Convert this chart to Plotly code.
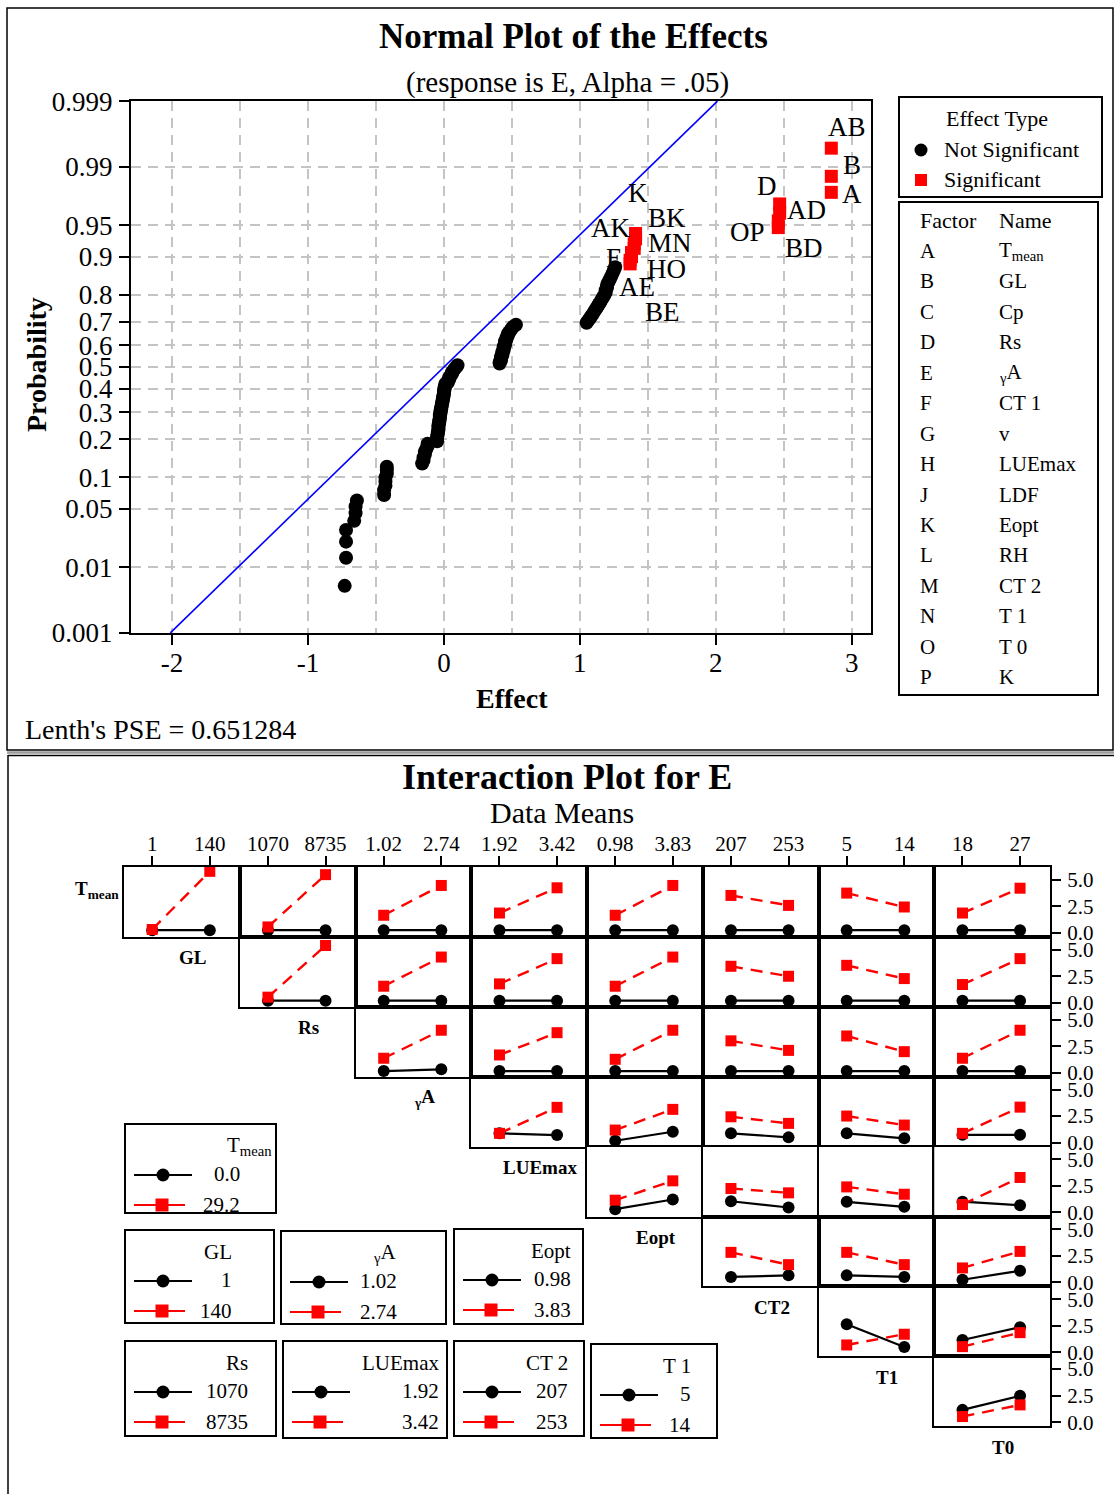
import plotly.graph_objects as go
from statistics import NormalDist

W, H = 1114, 1494
SERIF = "Liberation Serif"
GRID = "#c4c4c4"
RED = "#ff0000"

# ---------------- Normal plot of the effects: data ----------------
nonsig_effects = [
    -0.73, -0.72, -0.72, -0.72,
    -0.66, -0.65, -0.65, -0.64,
    -0.44, -0.44, -0.43, -0.43, -0.43, -0.42, -0.42, -0.42,
    -0.16, -0.15, -0.15, -0.14, -0.14, -0.13, -0.12, -0.12,
    -0.05, -0.05, -0.05, -0.045, -0.045, -0.04, -0.04,
    -0.04, -0.035, -0.035, -0.03, -0.03, -0.03, -0.025, -0.025, -0.02,
    -0.02, -0.015, -0.015, -0.01, -0.01, -0.005, -0.005,
    0.0, 0.0, 0.0, 0.005, 0.005, 0.01, 0.01,
    0.03, 0.03, 0.04, 0.04,
    0.05, 0.06, 0.06, 0.07,
    0.08, 0.09, 0.10,
    0.41, 0.41, 0.42, 0.42, 0.42, 0.43, 0.43,
    0.43, 0.44, 0.44, 0.44, 0.45, 0.45, 0.45,
    0.46, 0.46, 0.47, 0.47, 0.48,
    0.49, 0.50, 0.51, 0.53,
    1.05, 1.06, 1.07, 1.08,
    1.09, 1.10, 1.11, 1.12,
    1.13, 1.14, 1.15, 1.16, 1.17, 1.18, 1.19,
    1.19, 1.20, 1.20, 1.21, 1.22,
    1.23, 1.24, 1.25, 1.26,
]
sig_names = ["BE", "AE", "HO", "E", "MN", "AK", "BK", "K",
             "BD", "OP", "AD", "D", "A", "B", "AB"]
sig_effects = [1.37, 1.37, 1.38, 1.38, 1.40, 1.40, 1.41, 1.41,
               2.46, 2.46, 2.47, 2.47, 2.85, 2.85, 2.85]
lenth_pse = 0.651284

prob_ticks = [0.001, 0.01, 0.05, 0.1, 0.2, 0.3, 0.4, 0.5, 0.6, 0.7, 0.8, 0.9, 0.95, 0.99, 0.999]
prob_labels = ["0.001", "0.01", "0.05", "0.1", "0.2", "0.3", "0.4", "0.5", "0.6",
               "0.7", "0.8", "0.9", "0.95", "0.99", "0.999"]
effect_ticks = [-2, -1, 0, 1, 2, 3]
effect_labels = ["-2", "-1", "0", "1", "2", "3"]

factor_codes = ["A", "B", "C", "D", "E", "F", "G", "H", "J", "K", "L", "M", "N", "O", "P"]
factor_full_names = ["T<sub>mean</sub>", "GL", "Cp", "Rs", "<sub>γ</sub>A", "CT 1", "v",
                     "LUEmax", "LDF", "Eopt", "RH", "CT 2", "T 1", "T 0", "K"]

# ---------------- Interaction plot: data means ----------------
ia_factors = ["T<sub>mean</sub>", "GL", "Rs", "<sub>γ</sub>A", "LUEmax", "Eopt", "CT2", "T1", "T0"]
ia_key_titles = ["T<sub>mean</sub>", "GL", "Rs", "<sub>γ</sub>A", "LUEmax", "Eopt", "CT 2", "T 1"]
ia_levels = [["0.0", "29.2"], ["1", "140"], ["1070", "8735"], ["1.02", "2.74"],
             ["1.92", "3.42"], ["0.98", "3.83"], ["207", "253"], ["5", "14"], ["18", "27"]]

# each entry: [low trace @ low x, low trace @ high x, high trace @ low x, high trace @ high x]
tmean_means = [
    [0.25, 0.25, 0.32, 5.80],   # GL
    [0.25, 0.25, 0.56, 5.49],   # Rs
    [0.25, 0.25, 1.66, 4.47],   # yA
    [0.25, 0.25, 1.87, 4.25],   # LUEmax
    [0.25, 0.25, 1.66, 4.47],   # Eopt
    [0.25, 0.25, 3.53, 2.59],   # CT2
    [0.25, 0.25, 3.75, 2.44],   # T1
    [0.25, 0.25, 1.87, 4.21],   # T0
]
gl_means = [
    [0.20, 0.20, 0.53, 5.40],
    [0.20, 0.20, 1.56, 4.31],
    [0.20, 0.20, 1.78, 4.16],
    [0.20, 0.20, 1.56, 4.31],
    [0.20, 0.20, 3.44, 2.50],
    [0.20, 0.20, 3.53, 2.28],
    [0.20, 0.20, 1.72, 4.16],
]
rs_means = [
    [0.15, 0.32, 1.36, 4.00],
    [0.15, 0.15, 1.67, 3.77],
    [0.15, 0.15, 1.26, 4.00],
    [0.15, 0.15, 3.00, 2.10],
    [0.15, 0.15, 3.46, 1.98],
    [0.15, 0.15, 1.36, 4.00],
]
ya_means = [
    [0.87, 0.71, 0.87, 3.32],
    [0.17, 1.02, 1.18, 3.13],
    [0.87, 0.49, 2.43, 1.81],
    [0.87, 0.40, 2.50, 1.65],
    [0.73, 0.73, 0.87, 3.34],
]
luemax_means = [
    [0.31, 1.22, 1.16, 2.98],
    [1.06, 0.47, 2.26, 1.85],
    [1.00, 0.53, 2.41, 1.72],
    [1.02, 0.69, 0.75, 3.30],
]
eopt_means = [
    [0.51, 0.66, 2.83, 1.67],
    [0.66, 0.51, 2.83, 1.67],
    [0.25, 1.10, 1.36, 2.92],
]
ct2_means = [
    [2.64, 0.50, 0.69, 1.70],
    [1.16, 2.36, 0.53, 1.85],
]
t1_means = [
    [1.16, 2.48, 0.53, 1.63],
]
row_means = [tmean_means, gl_means, rs_means, ya_means, luemax_means,
             eopt_means, ct2_means, t1_means]

E_ticks = [0, 2.5, 5]
E_labels = ["0.0", "2.5", "5.0"]


# ---------------- helpers (pixel -> paper) ----------------
def px(x):
    return x / W


def py(y):
    return 1 - y / H


annotations = []
shapes = []


def note(text, x, y, size, bold=False, xanchor="center", yanchor="middle", angle=0):
    if bold:
        text = f"<b>{text}</b>"
    annotations.append(dict(text=text, x=px(x), y=py(y), xref="paper", yref="paper",
                            showarrow=False, xanchor=xanchor, yanchor=yanchor,
                            textangle=angle,
                            font=dict(family=SERIF, size=size, color="black")))


def rect(x0, y0, x1, y1, width=2.0, color="black", fill="rgba(0,0,0,0)"):
    shapes.append(dict(type="rect", xref="paper", yref="paper",
                       x0=px(x0), x1=px(x1), y0=py(y1), y1=py(y0),
                       line=dict(color=color, width=width), fillcolor=fill, layer="above"))


def seg(x0, y0, x1, y1, width=2.0, color="black"):
    shapes.append(dict(type="line", xref="paper", yref="paper",
                       x0=px(x0), x1=px(x1), y0=py(y0), y1=py(y1),
                       line=dict(color=color, width=width), layer="above"))


def dot(cx, cy, d, color):
    shapes.append(dict(type="circle", xref="paper", yref="paper",
                       x0=px(cx - d / 2), x1=px(cx + d / 2), y0=py(cy + d / 2), y1=py(cy - d / 2),
                       line=dict(width=0), fillcolor=color, layer="above"))


def square(cx, cy, s, color):
    shapes.append(dict(type="rect", xref="paper", yref="paper",
                       x0=px(cx - s / 2), x1=px(cx + s / 2), y0=py(cy + s / 2), y1=py(cy - s / 2),
                       line=dict(width=0), fillcolor=color, layer="above"))


fig = go.Figure()

# ---------------- Normal plot ----------------
nd = NormalDist()
ranked = [(e, None) for e in nonsig_effects] + list(zip(sig_effects, sig_names))
ranked.sort(key=lambda t: t[0])
n = len(ranked)
scores = [nd.inv_cdf((i + 1 - 0.3) / (n + 0.4)) for i in range(n)]

z_lo, z_hi = nd.inv_cdf(prob_ticks[0]), nd.inv_cdf(prob_ticks[-1])

# reference line: effect = PSE * normal score
fig.add_trace(go.Scatter(x=[lenth_pse * z_lo, lenth_pse * z_hi], y=[z_lo, z_hi],
                         mode="lines", line=dict(color="#0000ff", width=1.6),
                         hoverinfo="skip", xaxis="x", yaxis="y"))
fig.add_trace(go.Scatter(x=[e for e, nm in ranked if nm is None],
                         y=[s for (e, nm), s in zip(ranked, scores) if nm is None],
                         mode="markers", marker=dict(symbol="circle", size=14, color="black"),
                         xaxis="x", yaxis="y"))
sig_x = [e for e, nm in ranked if nm is not None]
sig_y = [s for (e, nm), s in zip(ranked, scores) if nm is not None]
sig_lab = [nm for e, nm in ranked if nm is not None]
fig.add_trace(go.Scatter(x=sig_x, y=sig_y, mode="markers",
                         marker=dict(symbol="square", size=13, color=RED),
                         xaxis="x", yaxis="y"))

# label placement offsets (pixels) for the significant effects
label_offsets = {"AB": (16, -21), "B": (21, -11), "A": (21, 2),
                 "D": (-13, -18), "AD": (27, -3), "OP": (-31, 11), "BD": (26, 20),
                 "K": (2, -41), "BK": (31, -21), "AK": (-24, -16), "MN": (36, -5),
                 "E": (-17, 5), "HO": (35, 12), "AE": (7, 27), "BE": (32, 48)}
for x, y, nm in zip(sig_x, sig_y, sig_lab):
    dx, dy = label_offsets[nm]
    annotations.append(dict(text=nm, x=x, y=y, xref="x", yref="y", showarrow=False,
                            xshift=dx, yshift=-dy,
                            font=dict(family=SERIF, size=27, color="black")))

axis_font = dict(family=SERIF, size=27, color="black")
layout_axes = {}
layout_axes["xaxis"] = dict(
    domain=[px(131), px(871)], range=[-2.302, 3.142], anchor="y", automargin=False,
    tickvals=effect_ticks, ticktext=effect_labels, tickfont=axis_font,
    ticks="outside", ticklen=10, tickwidth=2, tickcolor="black", ticklabelstandoff=-5,
    showline=True, mirror=True, linecolor="black", linewidth=2,
    showgrid=True, gridcolor=GRID, gridwidth=2, griddash="10px,7px",
    minor=dict(dtick=0.5, tick0=0, showgrid=True, gridcolor=GRID, gridwidth=2,
               griddash="10px,7px", ticks=""),
    zeroline=False, fixedrange=True)
layout_axes["yaxis"] = dict(
    domain=[py(633), py(101)], range=[z_lo - 0.001, z_hi + 0.001], anchor="x", automargin=False,
    tickvals=[nd.inv_cdf(p) for p in prob_ticks], ticktext=prob_labels, tickfont=axis_font,
    ticks="outside", ticklen=10, tickwidth=2, tickcolor="black", ticklabelstandoff=1,
    showline=True, mirror=True, linecolor="black", linewidth=2,
    showgrid=True, gridcolor=GRID, gridwidth=2, griddash="10px,7px",
    zeroline=False, fixedrange=True)

note("Normal Plot of the Effects", 573, 37, 35, bold=True)
note("(response is E, Alpha = .05)", 567, 82, 29)
note("Effect", 512, 698, 28, bold=True)
note("Probability", 36, 365, 28, bold=True, angle=-90)
note("Lenth's PSE = 0.651284", 23, 729, 28, xanchor="left")

# effect-type key
rect(899, 97, 1102, 197)
note("Effect Type", 997, 119, 22)
dot(921, 150, 13, "black")
note("Not Significant", 942, 149, 22, xanchor="left")
square(921, 180, 12, RED)
note("Significant", 942, 180, 22, xanchor="left")

# factor / name table
rect(899, 202, 1098, 695)
note("Factor", 918, 220, 22, xanchor="left")
note("Name", 997, 220, 22, xanchor="left")
for k, (code, name) in enumerate(zip(factor_codes, factor_full_names)):
    yy = 251 + 30.45 * k
    note(code, 918, yy, 21, xanchor="left")
    note(name, 997, yy, 21, xanchor="left")

# ---------------- Interaction plot ----------------
COL_LEFT, COL_W = 124, 115.75
ROW_TOP, ROW_H = 867, 69.9
small_font = dict(family=SERIF, size=21, color="black")
k = 2
for r, cells in enumerate(row_means):
    for m, vals in enumerate(cells):
        c = r + 1 + m
        j = c - 1
        x0 = COL_LEFT + j * COL_W
        y0 = ROW_TOP + r * ROW_H
        xa = dict(domain=[px(x0), px(x0 + COL_W)], range=[-0.49, 1.52], anchor=f"y{k}",
                  showline=True, mirror=True, linecolor="black", linewidth=2, automargin=False,
                  showgrid=False, zeroline=False, fixedrange=True)
        if r == 0:
            xa.update(side="top", tickvals=[0, 1], ticktext=ia_levels[c], tickfont=small_font,
                      ticks="outside", ticklen=9, tickwidth=2, tickcolor="black",
                      ticklabelstandoff=-3)
        else:
            xa.update(showticklabels=False, ticks="")
        ya = dict(domain=[py(y0 + ROW_H), py(y0)], range=[-0.38, 6.21], anchor=f"x{k}",
                  showline=True, mirror=True, linecolor="black", linewidth=2, automargin=False,
                  showgrid=False, zeroline=False, fixedrange=True)
        if j == 7:
            ya.update(side="right", tickvals=E_ticks, ticktext=E_labels, tickfont=small_font,
                      ticks="outside", ticklen=9, tickwidth=2, tickcolor="black",
                      ticklabelstandoff=2)
        else:
            ya.update(showticklabels=False, ticks="")
        layout_axes[f"xaxis{k}"] = xa
        layout_axes[f"yaxis{k}"] = ya
        fig.add_trace(go.Scatter(x=[0, 1], y=vals[0:2], mode="lines+markers",
                                 line=dict(color="black", width=2.2),
                                 marker=dict(symbol="circle", size=12, color="black"),
                                 xaxis=f"x{k}", yaxis=f"y{k}", cliponaxis=False))
        fig.add_trace(go.Scatter(x=[0, 1], y=vals[2:4], mode="lines+markers",
                                 line=dict(color=RED, width=2.4, dash="12px,8px"),
                                 marker=dict(symbol="square", size=11, color=RED),
                                 xaxis=f"x{k}", yaxis=f"y{k}", cliponaxis=False))
        k += 1

# factor names along the diagonal
note(ia_factors[0], 121, 890, 19, bold=True, xanchor="right")
for j in range(8):
    note(ia_factors[j + 1], COL_LEFT + (j + 0.5) * COL_W + 11, ROW_TOP + (j + 1) * ROW_H + 21,
         19, bold=True)

note("Interaction Plot for E", 567, 777, 36, bold=True)
note("Data Means", 562, 812, 30)

# trace keys
key_boxes = [  # factor index, box x0, y0, x1, y1, right edge of text column
    (0, 125, 1124, 276, 1213, 242),
    (1, 125, 1230, 274, 1323, 234),
    (3, 281, 1231, 446, 1324, 399),
    (5, 454, 1229, 583, 1324, 573),
    (2, 125, 1341, 276, 1436, 250),
    (4, 283, 1341, 447, 1438, 441),
    (6, 454, 1341, 584, 1436, 570),
    (7, 591, 1344, 717, 1438, 693),
]
for f, bx0, by0, bx1, by1, tr in key_boxes:
    rect(bx0, by0, bx1, by1)
    title_right = bx1 - 2 if f == 0 else tr
    note(ia_key_titles[f], title_right, by0 + 22, 21, xanchor="right")
    seg(bx0 + 9, by0 + 51, bx0 + 67, by0 + 51, 2.2, "black")
    dot(bx0 + 38, by0 + 51, 13, "black")
    seg(bx0 + 9, by0 + 81, bx0 + 60, by0 + 81, 2.2, RED)
    square(bx0 + 37, by0 + 81, 13, RED)
    note(ia_levels[f][0], tr, by0 + 50, 21, xanchor="right")
    note(ia_levels[f][1], tr, by0 + 81, 21, xanchor="right")

# panel frames
rect(7, 8, 1113, 750, width=1.5)
seg(7, 752.5, 1114, 752.5, 2.5, "#9a9a9a")
seg(8, 755.5, 1114, 755.5, 1.5, "black")
seg(8, 755, 8, 1494, 1.5, "black")

fig.update_layout(
    width=W, height=H, autosize=False,
    margin=dict(l=0, r=0, t=0, b=0, pad=0, autoexpand=False),
    paper_bgcolor="white", plot_bgcolor="white", showlegend=False,
    annotations=annotations, shapes=shapes, **layout_axes)

fig.write_html("out.html", config={"responsive": False, "displayModeBar": False})
